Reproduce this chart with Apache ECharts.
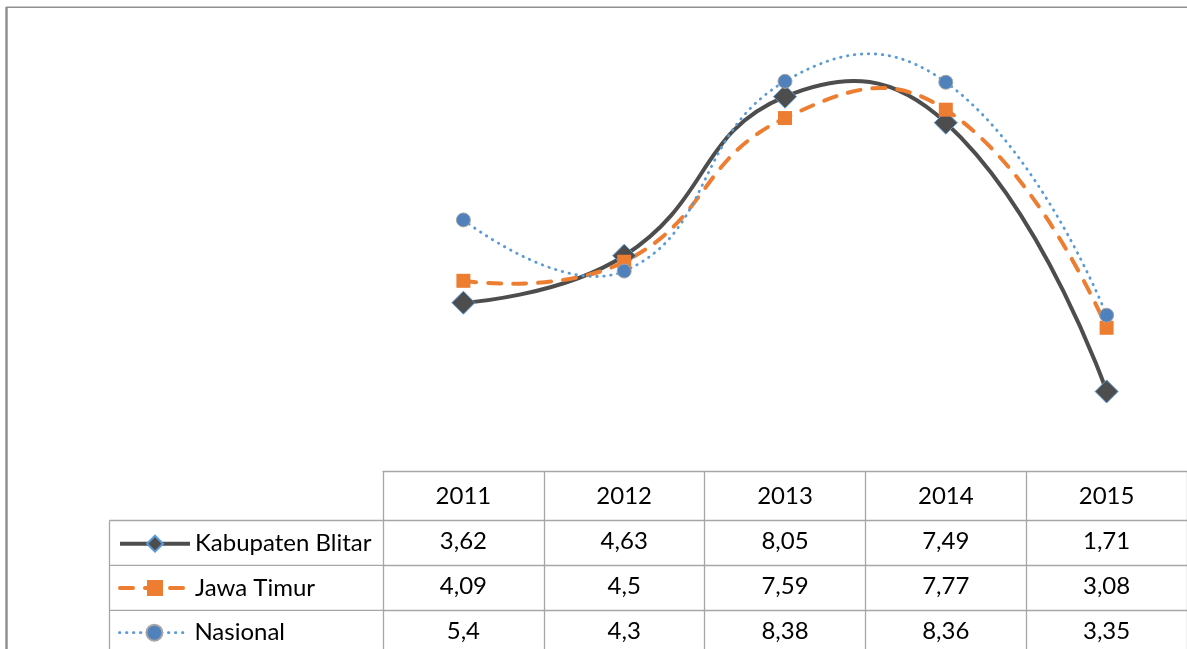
<!DOCTYPE html>
<html>
<head>
<meta charset="utf-8">
<script src="https://cdn.jsdelivr.net/npm/echarts@6/dist/echarts.min.js"></script>
<style>
html,body{margin:0;padding:0;background:#fff;}
#chart{width:1187px;height:649px;}
</style>
</head>
<body>
<div id="chart"></div>
<script>
const years = ['2011', '2012', '2013', '2014', '2015'];
const seriesNames = ['Kabupaten Blitar', 'Jawa Timur', 'Nasional'];
const blitar = [3.62, 4.63, 8.05, 7.49, 1.71];
const jatim = [4.09, 4.5, 7.59, 7.77, 3.08];
const nasional = [5.4, 4.3, 8.38, 8.36, 3.35];

const FONT = 'Lato';
const FS = 24;
const GRID_LINE = '#a6a6a6';
const SMOOTH = 0.47;
const fmt = v => String(v).replace('.', ',');

const rows = [blitar, jatim, nasional];
const rowOffsets = [49.5, 94.3, 139.3];
const rowMargins = [21.2, 20.9, 20.6];
const rowCenters = [541.7, 586, 630.7];

const styles = [
  { line: { color: '#4d4d4d', width: 4 }, symbol: 'diamond', size: 23,
    item: { color: '#4d4d4d', borderColor: '#5b9bd5', borderWidth: 1 } },
  { line: { color: '#ED7D31', width: 4, type: [13, 12], cap: 'round' }, symbol: 'rect', size: 14,
    item: { color: '#ED7D31', borderWidth: 0 } },
  { line: { color: '#5B9BD5', width: 2.8, type: [0.5, 6.5], cap: 'round' }, symbol: 'circle', size: 14,
    item: { color: '#4f81bd', borderColor: '#a5a5a5', borderWidth: 1 } }
];

const xAxes = [{
  type: 'category',
  data: years,
  boundaryGap: true,
  position: 'bottom',
  axisLine: { show: true, lineStyle: { color: GRID_LINE, width: 1.3 } },
  axisTick: { show: true, length: 185, lineStyle: { color: GRID_LINE, width: 1.3 } },
  axisLabel: { show: true, margin: 25.7, verticalAlign: 'middle', color: '#000', fontFamily: FONT, fontSize: FS },
  splitLine: { show: false }
}];
rows.forEach((arr, i) => {
  xAxes.push({
    type: 'category',
    data: years,
    boundaryGap: true,
    position: 'bottom',
    offset: rowOffsets[i],
    axisLine: { show: true, lineStyle: { color: GRID_LINE, width: 1.3 } },
    axisTick: { show: false },
    axisLabel: {
      show: true, margin: rowMargins[i], verticalAlign: 'middle', color: '#000',
      fontFamily: FONT, fontSize: FS,
      formatter: (val, idx) => fmt(arr[idx])
    },
    splitLine: { show: false }
  });
});

const legends = seriesNames.map((name, i) => ({
  orient: 'vertical',
  left: 118,
  top: rowCenters[i] - 10,
  padding: 0,
  itemWidth: 70,
  itemHeight: 20,
  itemGap: 5,
  lineStyle: { opacity: 1, width: styles[i].line.width },
  textStyle: { color: '#000', fontFamily: FONT, fontSize: FS, lineHeight: 20 },
  data: [name]
}));

const curveSeries = rows.map((arr, si) => ({
  name: seriesNames[si] + ' (kurva)',
  type: 'custom',
  z: 1,
  silent: true,
  clip: false,
  data: arr.map((v, i) => [i, v]),
  renderItem: (params, api) => {
    if (params.dataIndex !== 0) return null;
    const pts = arr.map((v, i) => api.coord([i, v]));
    const ls = styles[si].line;
    return {
      type: 'polyline',
      shape: { points: pts, smooth: SMOOTH },
      style: {
        fill: null,
        stroke: ls.color,
        lineWidth: ls.width,
        lineDash: Array.isArray(ls.type) ? ls.type : null,
        lineCap: ls.cap || 'butt',
        lineJoin: 'round'
      }
    };
  }
}));

const markerSeries = rows.map((arr, si) => ({
  name: seriesNames[si],
  type: 'line',
  z: 3,
  data: arr,
  symbol: styles[si].symbol,
  symbolSize: styles[si].size,
  lineStyle: Object.assign({}, styles[si].line, { opacity: 0 }),
  itemStyle: styles[si].item
}));

const option = {
  animation: false,
  backgroundColor: '#fff',
  textStyle: { fontFamily: FONT },
  grid: { left: 383, width: 807.5, top: 6, bottom: 178, containLabel: false },
  xAxis: xAxes,
  yAxis: { type: 'value', min: 0, max: 10, show: false, splitLine: { show: false } },
  legend: legends,
  graphic: [
    { type: 'line', shape: { x1: 6.5, y1: 7, x2: 6.5, y2: 649 }, style: { stroke: '#909090', lineWidth: 2.5 } },
    { type: 'line', shape: { x1: 6, y1: 7.3, x2: 1187, y2: 7.3 }, style: { stroke: '#909090', lineWidth: 1.5 } },
    { type: 'line', shape: { x1: 109.5, y1: 520.5, x2: 383, y2: 520.5 }, style: { stroke: GRID_LINE, lineWidth: 1.3 } },
    { type: 'line', shape: { x1: 109.5, y1: 565.3, x2: 383, y2: 565.3 }, style: { stroke: GRID_LINE, lineWidth: 1.3 } },
    { type: 'line', shape: { x1: 109.5, y1: 610.3, x2: 383, y2: 610.3 }, style: { stroke: GRID_LINE, lineWidth: 1.3 } },
    { type: 'line', shape: { x1: 109.5, y1: 520.5, x2: 109.5, y2: 649 }, style: { stroke: GRID_LINE, lineWidth: 1.3 } }
  ],
  series: curveSeries.concat(markerSeries)
};

const chart = echarts.init(document.getElementById('chart'), null, { renderer: 'canvas' });
chart.setOption(option);
</script>
</body>
</html>
